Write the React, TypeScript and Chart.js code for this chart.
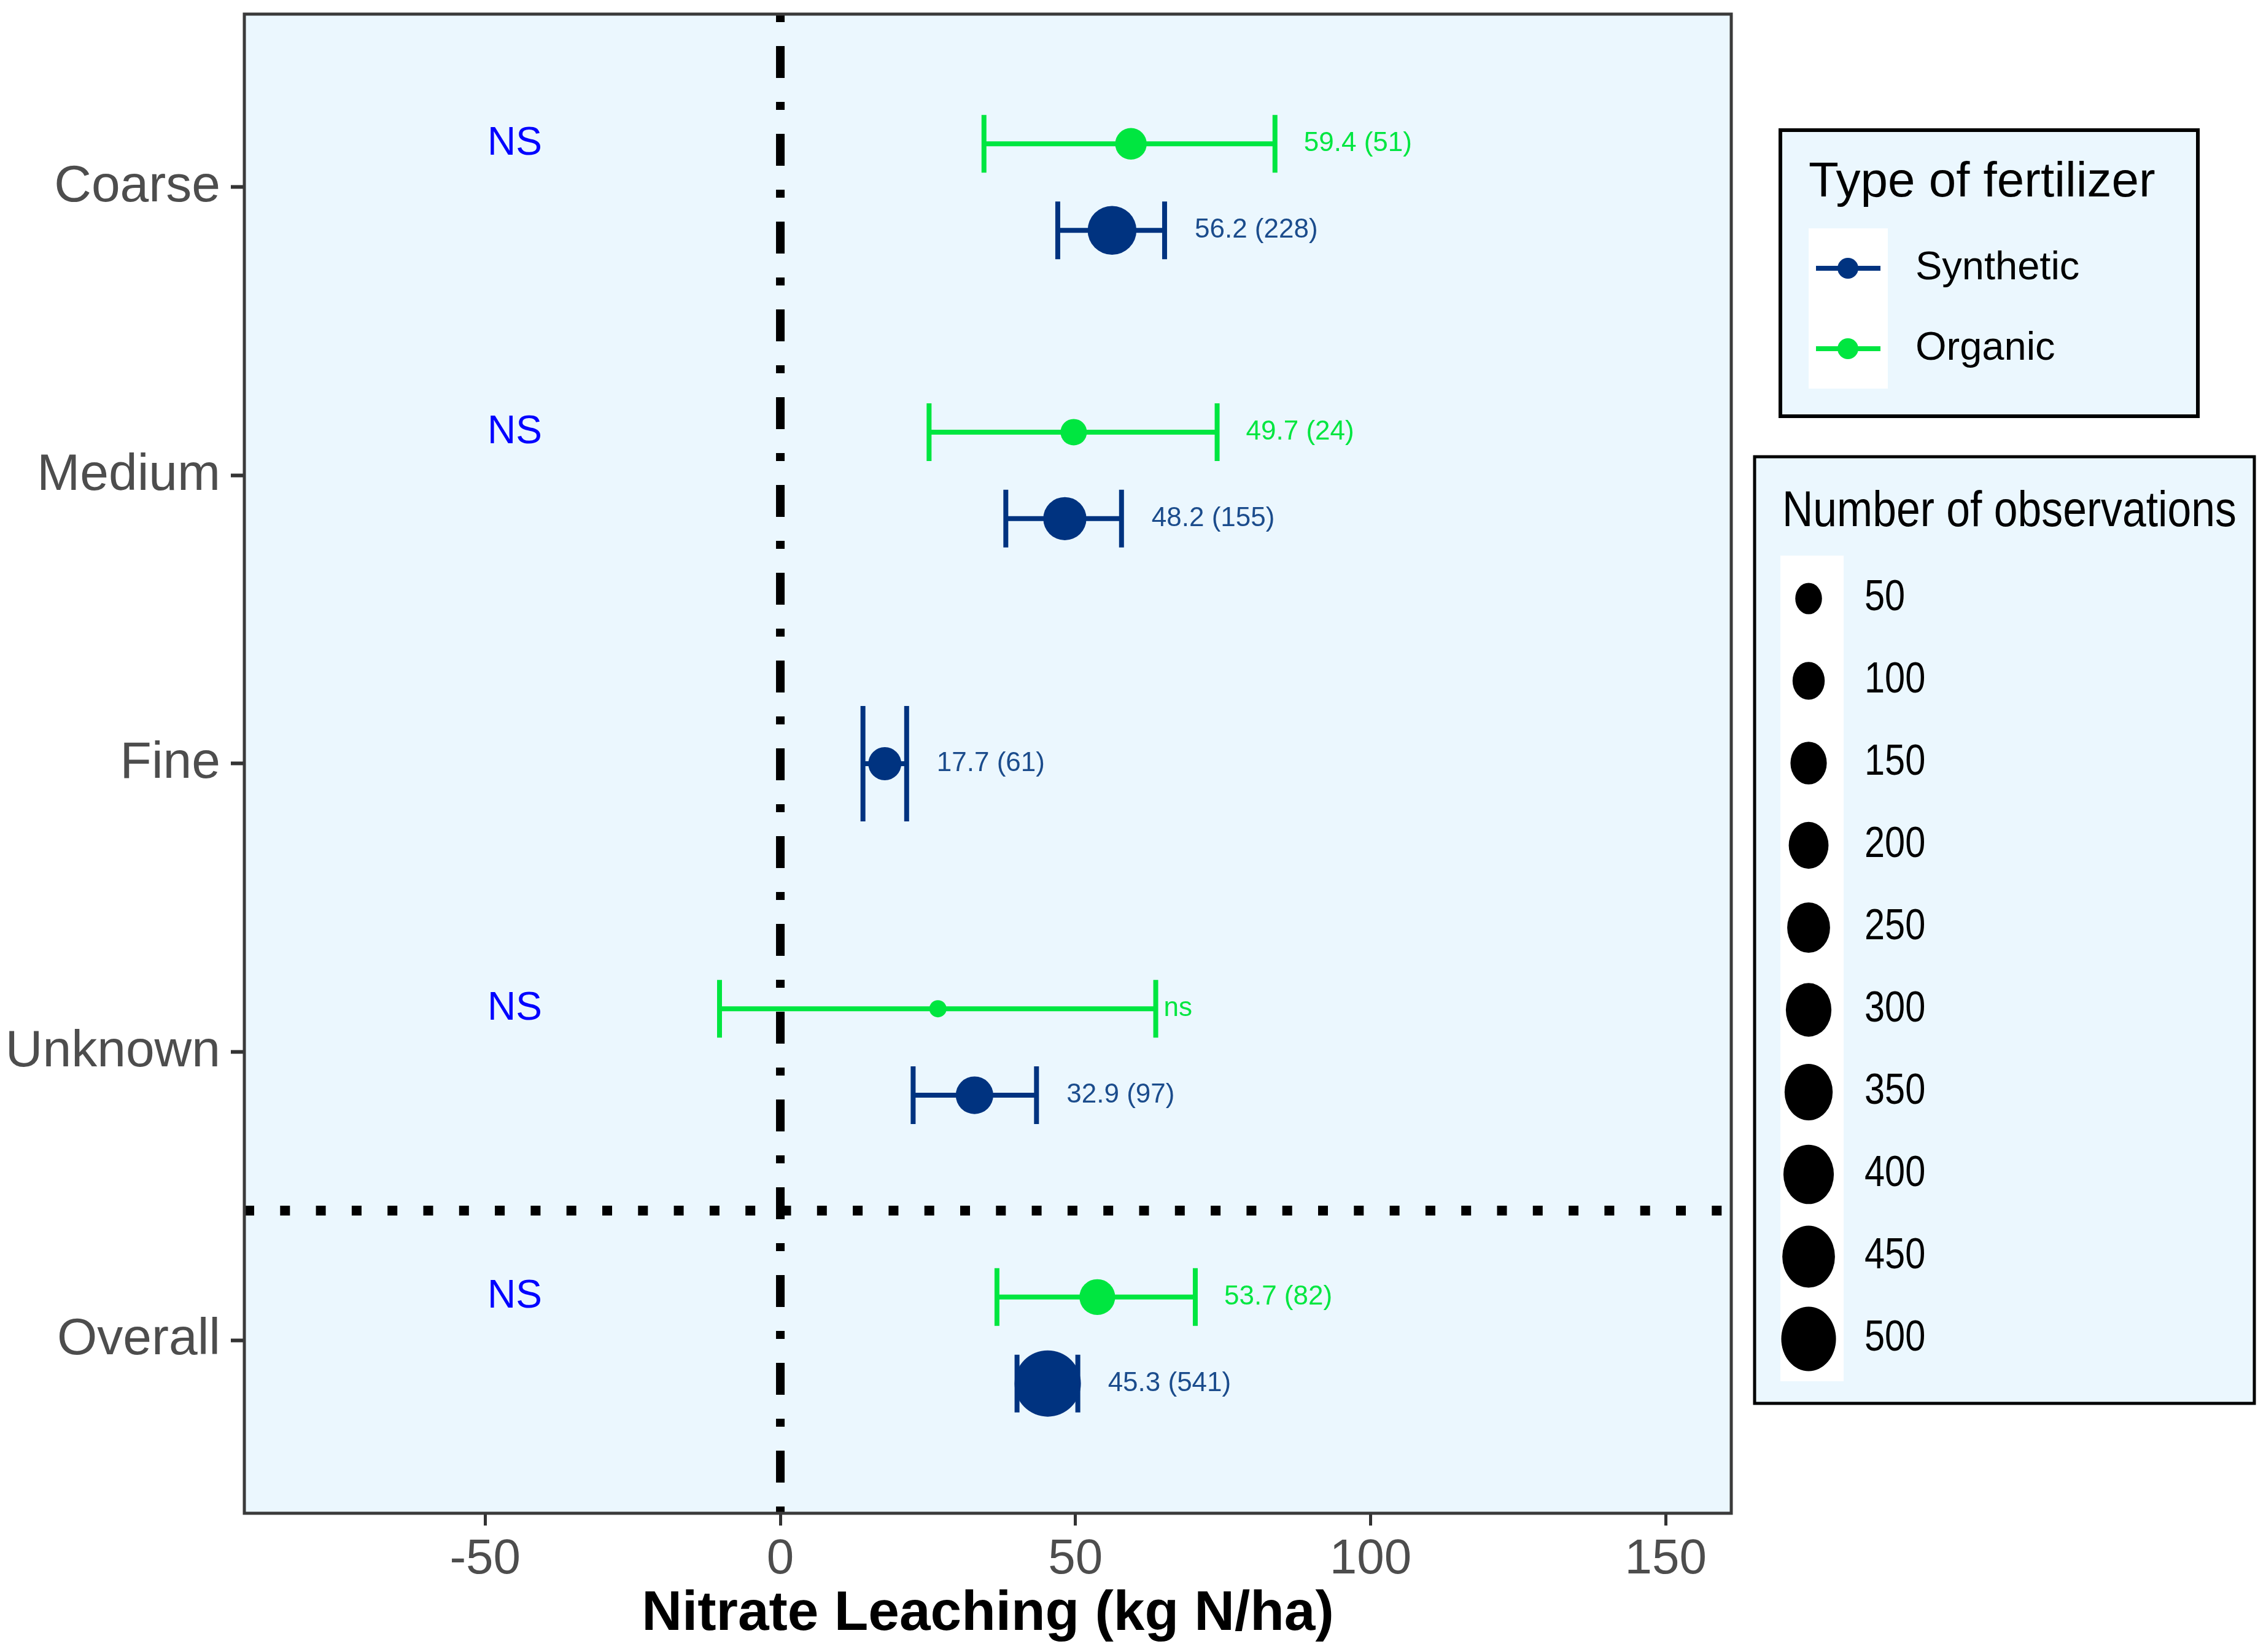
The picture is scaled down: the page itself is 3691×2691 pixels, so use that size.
import React, { useEffect, useRef } from 'react';
import { Chart, registerables } from 'chart.js';

Chart.register(...registerables);

// ---------- data ----------
const categories = ['Coarse', 'Medium', 'Fine', 'Unknown', 'Overall'];
const xTickValues = [-50, 0, 50, 100, 150];

const synthMean = [56.2, 48.2, 17.7, 32.9, 45.3];
const synthLower = [47.0, 38.2, 14.0, 22.5, 40.1];
const synthUpper = [65.1, 57.8, 21.4, 43.4, 50.4];
const synthN = [228, 155, 61, 97, 541];
const synthLabels = ['56.2 (228)', '48.2 (155)', '17.7 (61)', '32.9 (97)', '45.3 (541)'];

const orgMean: (number | null)[] = [59.4, 49.7, null, 26.7, 53.7];
const orgLower: (number | null)[] = [34.5, 25.2, null, -10.3, 36.7];
const orgUpper: (number | null)[] = [83.8, 74.0, null, 63.6, 70.3];
const orgN: (number | null)[] = [51, 24, null, 5, 82];
const orgLabels: (string | null)[] = ['59.4 (51)', '49.7 (24)', null, 'ns', '53.7 (82)'];

const contrastLabels: (string | null)[] = ['NS', 'NS', null, 'NS', 'NS'];
const contrastLabelX = -45;
const separatorY = 1.45;

const seriesNames = ['Synthetic', 'Organic'];
const sizeBreaks = [50, 100, 150, 200, 250, 300, 350, 400, 450, 500];

// ---------- styles ----------
const W = 3691;
const H = 2691;
const FONT = '"Liberation Sans", Arial, Helvetica, sans-serif';
const NAVY = '#003380';
const NAVY_TEXT = '#1B4C8C';
const GREEN = '#00E640';
const PANEL_BG = '#EBF7FE';
const AXIS_TEXT = '#4D4D4D';

const allN = [...synthN, ...(orgN.filter((v) => v != null) as number[])];
const nMin = Math.min(...allN);
const nMax = Math.max(...allN);
const R_MIN = 14;
const R_MAX = 54;
function radiusFor(n: number) {
  return R_MIN + (R_MAX - R_MIN) * Math.sqrt((n - nMin) / (nMax - nMin));
}

function hasBoth(i: number) {
  return orgMean[i] != null && synthMean[i] != null;
}
function catValue(i: number) {
  return categories.length - i;
}
function yPos(i: number, organic: boolean) {
  const off = hasBoth(i) ? 0.15 : 0;
  return catValue(i) + (organic ? off : -off);
}
function capHalf(i: number) {
  return hasBoth(i) ? 0.1 : 0.2;
}

const synthIdx = synthMean.map((_, i) => i);
const orgIdx = orgMean.map((v, i) => (v == null ? -1 : i)).filter((i) => i >= 0);

const overlayPlugin = {
  id: 'overlay',
  beforeDraw(chart: any) {
    const { ctx, chartArea: a } = chart;
    ctx.save();
    ctx.fillStyle = '#FFFFFF';
    ctx.fillRect(0, 0, chart.width, chart.height);
    ctx.fillStyle = PANEL_BG;
    ctx.fillRect(a.left, a.top, a.right - a.left, a.bottom - a.top);
    ctx.restore();
  },
  beforeDatasetsDraw(chart: any) {
    const { ctx, chartArea: a, scales } = chart;
    const xs = scales.x;
    const ys = scales.y;
    ctx.save();
    ctx.beginPath();
    ctx.rect(a.left, a.top, a.right - a.left, a.bottom - a.top);
    ctx.clip();

    // zero reference line (dot-dash)
    const x0 = xs.getPixelForValue(0);
    ctx.strokeStyle = '#000000';
    ctx.lineWidth = 14;
    ctx.lineCap = 'butt';
    ctx.setLineDash([13, 39, 52, 39]);
    ctx.lineDashOffset = 0;
    ctx.beginPath();
    ctx.moveTo(x0, a.top);
    ctx.lineTo(x0, a.bottom);
    ctx.stroke();

    // separator (dotted)
    const ySep = ys.getPixelForValue(separatorY);
    ctx.lineWidth = 16;
    ctx.setLineDash([16, 42.3]);
    ctx.beginPath();
    ctx.moveTo(a.left, ySep);
    ctx.lineTo(a.right, ySep);
    ctx.stroke();
    ctx.setLineDash([]);

    // error bars
    const drawBar = (lo: number, hi: number, yv: number, ch: number, color: string) => {
      const px1 = xs.getPixelForValue(lo);
      const px2 = xs.getPixelForValue(hi);
      const py = ys.getPixelForValue(yv);
      const pt = ys.getPixelForValue(yv + ch);
      const pb = ys.getPixelForValue(yv - ch);
      ctx.strokeStyle = color;
      ctx.lineWidth = 8;
      ctx.beginPath();
      ctx.moveTo(px1, py);
      ctx.lineTo(px2, py);
      ctx.moveTo(px1, pt);
      ctx.lineTo(px1, pb);
      ctx.moveTo(px2, pt);
      ctx.lineTo(px2, pb);
      ctx.stroke();
    };
    orgIdx.forEach((i) => drawBar(orgLower[i] as number, orgUpper[i] as number, yPos(i, true), capHalf(i), GREEN));
    synthIdx.forEach((i) => drawBar(synthLower[i], synthUpper[i], yPos(i, false), capHalf(i), NAVY));
    ctx.restore();
  },
  afterDatasetsDraw(chart: any) {
    const { ctx, scales } = chart;
    const xs = scales.x;
    const ys = scales.y;
    ctx.save();
    ctx.textBaseline = 'middle';
    ctx.textAlign = 'left';
    ctx.font = `44px ${FONT}`;
    orgIdx.forEach((i) => {
      const lab = orgLabels[i];
      if (!lab) return;
      const gap = lab === 'ns' ? 13 : 47;
      ctx.fillStyle = GREEN;
      ctx.fillText(lab, xs.getPixelForValue(orgUpper[i] as number) + gap, ys.getPixelForValue(yPos(i, true)));
    });
    synthIdx.forEach((i) => {
      ctx.fillStyle = NAVY_TEXT;
      ctx.fillText(synthLabels[i], xs.getPixelForValue(synthUpper[i]) + 49, ys.getPixelForValue(yPos(i, false)));
    });
    ctx.font = `64px ${FONT}`;
    ctx.textAlign = 'center';
    ctx.fillStyle = '#0000FF';
    contrastLabels.forEach((lab, i) => {
      if (!lab) return;
      ctx.fillText(lab, xs.getPixelForValue(contrastLabelX), ys.getPixelForValue(yPos(i, true)));
    });
    ctx.restore();
  },
  afterDraw(chart: any) {
    const { ctx, chartArea: a } = chart;
    ctx.save();
    // panel border
    ctx.strokeStyle = '#3A3A3A';
    ctx.lineWidth = 5;
    ctx.strokeRect(a.left, a.top, a.right - a.left, a.bottom - a.top);

    // legend 1: type of fertilizer
    ctx.fillStyle = PANEL_BG;
    ctx.fillRect(2900, 212, 680, 466);
    ctx.strokeStyle = '#000000';
    ctx.lineWidth = 6;
    ctx.strokeRect(2900, 212, 680, 466);
    ctx.fillStyle = '#000000';
    ctx.font = `80px ${FONT}`;
    ctx.textAlign = 'left';
    ctx.textBaseline = 'alphabetic';
    ctx.fillText('Type of fertilizer', 2946, 320);
    ctx.fillStyle = '#FFFFFF';
    ctx.fillRect(2946, 372, 129, 261);
    const colors = [NAVY, GREEN];
    seriesNames.forEach((name, k) => {
      const cy = 437 + k * 131;
      ctx.strokeStyle = colors[k];
      ctx.lineWidth = 8;
      ctx.beginPath();
      ctx.moveTo(2958, cy);
      ctx.lineTo(3063, cy);
      ctx.stroke();
      ctx.fillStyle = colors[k];
      ctx.beginPath();
      ctx.arc(3010, cy, 17, 0, Math.PI * 2);
      ctx.fill();
      ctx.fillStyle = '#000000';
      ctx.font = `65px ${FONT}`;
      ctx.textBaseline = 'middle';
      ctx.fillText(name, 3120, cy);
    });

    // legend 2: number of observations (horizontally condensed)
    const bx = 2858;
    ctx.fillStyle = PANEL_BG;
    ctx.fillRect(bx, 744, 814, 1542);
    ctx.strokeStyle = '#000000';
    ctx.lineWidth = 5;
    ctx.strokeRect(bx, 744, 814, 1542);
    const sx = 0.85;
    ctx.translate(bx, 0);
    ctx.scale(sx, 1);
    const lx = (v: number) => (v - bx) / sx;
    ctx.fillStyle = '#000000';
    ctx.font = `82px ${FONT}`;
    ctx.textBaseline = 'alphabetic';
    ctx.textAlign = 'left';
    ctx.fillText('Number of observations', lx(2903), 857);
    ctx.fillStyle = '#FFFFFF';
    ctx.fillRect(lx(2900), 905, 103 / sx, 1345);
    sizeBreaks.forEach((n, k) => {
      const cy = 975 + k * 134;
      ctx.fillStyle = '#000000';
      ctx.beginPath();
      ctx.arc(lx(2946), cy, radiusFor(n), 0, Math.PI * 2);
      ctx.fill();
      ctx.font = `70px ${FONT}`;
      ctx.textBaseline = 'middle';
      ctx.fillText(String(n), lx(3037), cy);
    });
    ctx.restore();
  },
};

export default function App() {
  const ref = useRef<HTMLCanvasElement>(null);
  useEffect(() => {
    if (!ref.current) return;
    Chart.defaults.font.family = FONT;
    const chart = new Chart(ref.current, {
      type: 'scatter',
      data: {
        datasets: [
          {
            label: seriesNames[0],
            data: synthIdx.map((i) => ({ x: synthMean[i], y: yPos(i, false) })),
            pointRadius: synthIdx.map((i) => radiusFor(synthN[i])),
            pointHoverRadius: synthIdx.map((i) => radiusFor(synthN[i])),
            backgroundColor: NAVY,
            borderColor: NAVY,
            borderWidth: 0,
          },
          {
            label: seriesNames[1],
            data: orgIdx.map((i) => ({ x: orgMean[i] as number, y: yPos(i, true) })),
            pointRadius: orgIdx.map((i) => radiusFor(orgN[i] as number)),
            pointHoverRadius: orgIdx.map((i) => radiusFor(orgN[i] as number)),
            backgroundColor: GREEN,
            borderColor: GREEN,
            borderWidth: 0,
          },
        ],
      },
      options: {
        responsive: false,
        animation: false,
        devicePixelRatio: 1,
        events: [],
        layout: { autoPadding: false, padding: { left: 0, right: W - 2820, top: 23, bottom: 0 } },
        plugins: {
          legend: { display: false },
          tooltip: { enabled: false },
        },
        scales: {
          x: {
            type: 'linear',
            min: -90.8,
            max: 161.1,
            afterBuildTicks: (s: any) => {
              s.ticks = xTickValues.map((v) => ({ value: v }));
            },
            afterFit: (s: any) => {
              s.height = H - 2465;
              s.paddingLeft = 0;
              s.paddingRight = 0;
            },
            ticks: {
              font: { family: FONT, size: 80 },
              color: AXIS_TEXT,
              padding: 8,
              maxRotation: 0,
              autoSkip: false,
            },
            grid: {
              display: true,
              drawOnChartArea: false,
              drawTicks: true,
              tickLength: 20,
              tickColor: '#333333',
              tickWidth: 5,
            },
            border: { display: false },
            title: {
              display: true,
              text: 'Nitrate Leaching (kg N/ha)',
              font: { family: FONT, size: 91, weight: 'bold' },
              color: '#000000',
              padding: { top: 0, bottom: 6 },
            },
          },
          y: {
            type: 'linear',
            min: 0.4,
            max: 5.6,
            afterBuildTicks: (s: any) => {
              s.ticks = categories.map((_, i) => ({ value: catValue(i) }));
            },
            afterFit: (s: any) => {
              s.width = 398;
              s.paddingTop = 0;
              s.paddingBottom = 0;
            },
            ticks: {
              font: { family: FONT, size: 84 },
              color: AXIS_TEXT,
              padding: 17,
              autoSkip: false,
              callback: (v: any) => categories[categories.length - Number(v)],
            },
            grid: {
              display: true,
              drawOnChartArea: false,
              drawTicks: true,
              tickLength: 22,
              tickColor: '#333333',
              tickWidth: 6,
            },
            border: { display: false },
          },
        },
      } as any,
      plugins: [overlayPlugin],
    });
    return () => chart.destroy();
  }, []);
  return (
    <div style={{ position: 'fixed', left: 0, top: 0, width: W, height: H, background: '#FFFFFF' }}>
      <canvas ref={ref} width={W} height={H} style={{ display: 'block', width: W, height: H }} />
    </div>
  );
}
